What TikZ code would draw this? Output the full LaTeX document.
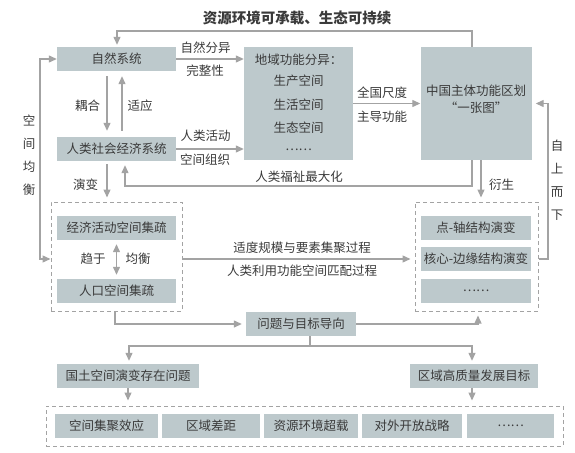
\documentclass[tikz,border=0pt]{standalone}
\usepackage{fontspec}
\setmainfont{Noto Sans CJK SC}
\usepackage{tikz}
\usetikzlibrary{arrows.meta,positioning,calc}
\definecolor{boxfill}{HTML}{BDC9CC}
\definecolor{linegray}{HTML}{A3A3A3}
\definecolor{txtgray}{HTML}{3A3A3A}
\tikzset{
  box/.style={fill=boxfill,inner sep=0pt,minimum height=24pt,text=txtgray,font=\fontsize{12.5}{15}\selectfont},
  lbl/.style={inner sep=0pt,text=txtgray,font=\fontsize{12.5}{15}\selectfont},
  frame/.style={draw=linegray,dash pattern=on 4pt off 3pt,line width=1pt,inner sep=0pt},
  conn/.style={draw=linegray,line width=1.3pt},
  arr/.style={conn,-{Triangle[length=8pt,width=7pt]}},
  darr/.style={conn,{Triangle[length=8pt,width=7pt]}-{Triangle[length=8pt,width=7pt]}},
}

\begin{document}
\begin{tikzpicture}[x=1pt,y=-1pt]
        \useasboundingbox (0,0) rectangle (575,452);
        \node[lbl,font=\fontsize{14.5}{17}\selectfont\bfseries] (title) at (297,18) {资源环境可承载、生态可持续};
        \node[box,minimum width=119pt] (nat) at (116.5,59) {自然系统};
        \node[box,minimum width=119pt] (hum) at (116.5,149) {人类社会经济系统};
        \node[box,minimum width=109pt,minimum height=113pt] (reg) at (298.5,103.5) {};
        \node[lbl] (reg0) at (298.5,60) {地域功能分异：};
        \node[lbl] (reg1) at (298.5,81) {生产空间};
        \node[lbl] (reg2) at (298.5,105) {生活空间};
        \node[lbl] (reg3) at (298.5,128) {生态空间};
        \node[lbl] (reg4) at (298.5,150) {……};
        \node[box,minimum width=111pt,minimum height=113pt] (map) at (476,103.5) {};
        \node[lbl] (map1) at (476,91) {中国主体功能区划};
        \node[lbl] (map2) at (476,108) {“一张图”};
        \node[frame,minimum width=131pt,minimum height=109pt] (lbox) at (116.5,256.5) {};
        \node[box,minimum width=119pt] (eco) at (116.5,228) {经济活动空间集疏};
        \node[box,minimum width=119pt] (pop) at (116.5,291) {人口空间集疏};
        \node[frame,minimum width=123pt,minimum height=109pt] (rbox) at (476.5,256.5) {};
        \node[box,minimum width=110pt] (pa) at (476,228) {点-轴结构演变};
        \node[box,minimum width=110pt] (core) at (476,259) {核心-边缘结构演变};
        \node[box,minimum width=110pt] (more) at (476,291) {……};
        \node[box,minimum width=110pt] (prob) at (301,324) {问题与目标导向};
        \node[box,minimum width=142pt] (issue) at (128,376) {国土空间演变存在问题};
        \node[box,minimum width=128pt] (goal) at (474,376) {区域高质量发展目标};
        \node[frame,minimum width=517pt,minimum height=40pt] (bbox) at (304.5,426) {};
        \node[box,minimum width=103pt] (b1) at (106.5,426) {空间集聚效应};
        \node[box,minimum width=98pt] (b2) at (211,426) {区域差距};
        \node[box,minimum width=94pt] (b3) at (311,426) {资源环境超载};
        \node[box,minimum width=100pt] (b4) at (412,426) {对外开放战略};
        \node[box,minimum width=87pt] (b5) at (510.5,426) {……};
        \node[lbl] (l1) at (205.5,48) {自然分异};
        \node[lbl] (l2) at (205,71) {完整性};
        \node[lbl] (l3) at (205.5,136) {人类活动};
        \node[lbl] (l4) at (205,160) {空间组织};
        \node[lbl] (l5) at (382,93) {全国尺度};
        \node[lbl] (l6) at (382,117) {主导功能};
        \node[lbl] (l7) at (87.5,106) {耦合};
        \node[lbl] (l8) at (140,106) {适应};
        \node[lbl] (l9) at (85.5,185) {演变};
        \node[lbl] (l10) at (299,177) {人类福祉最大化};
        \node[lbl] (l11) at (93,259) {趋于};
        \node[lbl] (l12) at (138,259) {均衡};
        \node[lbl] (l13) at (302,248) {适度规模与要素集聚过程};
        \node[lbl] (l14) at (302,271) {人类利用功能空间匹配过程};
        \node[lbl] (l15) at (501.5,185) {衍生};
        \node[lbl,align=center,font=\fontsize{12.5}{23}\selectfont] (l16) at (29,155.5) {空\\间\\均\\衡};
        \node[lbl,align=center,font=\fontsize{12.5}{23}\selectfont] (l17) at (557,180) {自\\上\\而\\下};
        \coordinate (tl) at (117,31);
        \coordinate (tr) at (472,31);
        \coordinate (bl) at (125,186);
        \coordinate (br) at (472,186);
        \coordinate (cpl) at (107,0);
        \coordinate (cpr) at (122,0);
        \coordinate (ll) at (40,0);
        \coordinate (mid) at (0,259);
        \coordinate (dv) at (481,0);
        \coordinate (rr) at (548,0);
        \coordinate (pl) at (115,324);
        \coordinate (pr) at (478,324);
        \coordinate (ps) at (310,346);
        \coordinate (psl) at (129,346);
        \coordinate (psr) at (472,346);
        \draw[arr,shorten >=2pt] (map.north -| tr) -- (tr) -- (tl) -- (nat.north -| tl);
        \draw[arr] (nat.east) -- (reg.west |- nat.east);
        \draw[arr] (reg.east) -- (map.west);
        \draw[arr] (hum.east) -- (reg.west |- hum.east);
        \draw[arr,shorten <=5pt,shorten >=6pt] (nat.south -| cpl) -- (hum.north -| cpl);
        \draw[arr,shorten <=6pt,shorten >=5pt] (hum.north -| cpr) -- (nat.south -| cpr);
        \draw[arr,shorten >=4pt] (map.south -| br) -- (br) -- (bl) -- (hum.south -| bl);
        \draw[arr,shorten <=3pt,shorten >=4pt] (hum.south -| cpl) -- (lbox.north -| cpl);
        \draw[darr] (nat.west) -- (nat.west -| ll) -- (ll |- mid) -- (lbox.west |- mid);
        \draw[darr,shorten <=4pt,shorten >=4pt] (eco.south) -- (pop.north);
        \draw[arr,shorten >=4pt] (lbox.east |- mid) -- (rbox.west |- mid);
        \draw[arr,shorten >=4pt] (map.south -| dv) -- (rbox.north -| dv);
        \draw[arr,shorten >=4pt] (rbox.east |- mid) -- (rr |- mid) -- (rr |- map.east) -- (map.east);
        \draw[arr,shorten >=4pt] (lbox.south -| pl) -- (pl) -- (prob.west);
        \draw[arr,shorten >=4pt] (prob.east) -- (pr) -- (rbox.south -| pr);
        \draw[conn] (prob.south -| ps) -- (ps);
        \draw[arr,shorten >=3pt] (ps) -- (psl) -- (issue.north -| psl);
        \draw[arr,shorten >=3pt] (ps) -- (psr) -- (goal.north -| psr);
        \draw[arr,shorten >=5pt] (issue.south) -- (bbox.north -| issue.south);
        \draw[arr,shorten >=5pt] (goal.south -| psr) -- (bbox.north -| psr);
      \end{tikzpicture}
\end{document}
